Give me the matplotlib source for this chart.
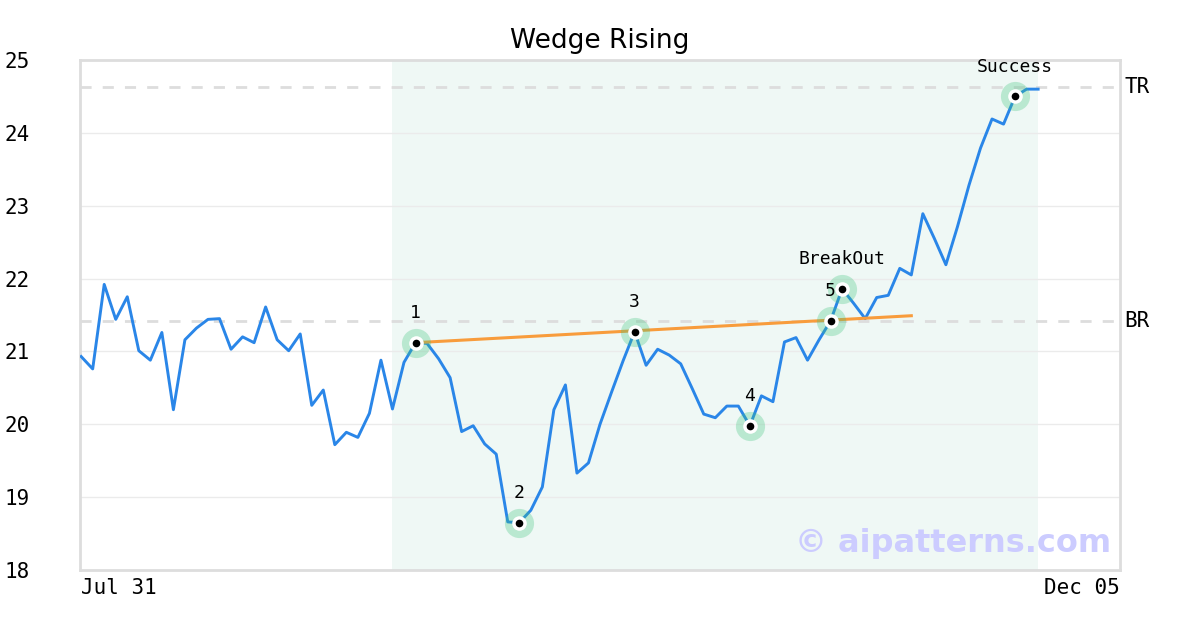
import matplotlib
matplotlib.use("Agg")
import matplotlib.pyplot as plt

# closing prices, one per trading day (index based x axis)
prices = [
    20.93, 20.76, 21.92, 21.44, 21.75, 21.01, 20.88, 21.26, 20.20, 21.16,
    21.32, 21.44, 21.45, 21.03, 21.20, 21.12, 21.61, 21.16, 21.01, 21.24,
    20.26, 20.47, 19.72, 19.89, 19.82, 20.15, 20.88, 20.21, 20.85, 21.12,
    21.11, 20.90, 20.64, 19.90, 19.98, 19.73, 19.59, 18.66, 18.65, 18.82,
    19.14, 20.20, 20.54, 19.33, 19.47, 20.00, 20.44, 20.87, 21.27, 20.81,
    21.03, 20.95, 20.83, 20.49, 20.14, 20.09, 20.25, 20.25, 19.98, 20.39,
    20.31, 21.13, 21.19, 20.88, 21.16, 21.42, 21.86, 21.66, 21.45, 21.74,
    21.77, 22.14, 22.05, 22.89, 22.55, 22.19, 22.71, 23.28, 23.79, 24.19,
    24.12, 24.50, 24.60, 24.60,
]

# pattern points (index into prices) and their labels
point_idx = [29, 38, 48, 58, 65, 66, 81]
point_labels = ["1", "2", "3", "4", "5", "BreakOut", "Success"]

# orange trend line: (index, value) at both ends
trend_x = [29, 72]
trend_y = [21.12, 21.49]

# shaded pattern window
shade_start, shade_end = 27, 83

levels = {"TR": 24.63, "BR": 21.42}

x_ticks = [0, 90.1]
x_tick_labels = ["Jul 31", "Dec 05"]
y_ticks = [18, 19, 20, 21, 22, 23, 24, 25]

fig = plt.figure(figsize=(12, 6.3), dpi=100)
ax = fig.add_axes([80 / 1200, 60 / 630, 1040 / 1200, 510 / 630])

x = list(range(len(prices)))

ax.axvspan(shade_start, shade_end, color="#eff8f5", zorder=0, lw=0)

for name, val in levels.items():
    ax.axhline(val, color="#dddddd", lw=2, ls=(0, (4, 4)), zorder=1)
    ax.text(1.004, val, name, transform=ax.get_yaxis_transform(),
            ha="left", va="center", fontsize=15, family="DejaVu Sans Mono")

ax.plot(x, prices, color="#2a86e8", lw=2.1, zorder=3)
ax.plot(trend_x, trend_y, color="#f89c3c", lw=2.2, zorder=3)

px = point_idx
py = [prices[i] for i in point_idx]
ax.plot(px, py, "o", ms=21, color="#3cc47c", alpha=0.3, mec="none", zorder=4)
ax.plot(px, py, "o", ms=10.5, color="white", mec="none", zorder=5)
ax.plot(px, py, "o", ms=5.5, color="black", mec="none", zorder=6)

for i, lab in zip(point_idx, point_labels):
    ax.annotate(lab, (i, prices[i]), xytext=(0, 21.5), textcoords="offset points",
                ha="center", va="center", fontsize=13,
                family="DejaVu Sans Mono", zorder=7)

ax.text(0.991, 0.052, "© aipatterns.com", transform=ax.transAxes,
        ha="right", va="center", fontsize=23, fontweight="bold",
        color="#ccccff", zorder=8)

ax.set_xlim(-0.1, 90.1)
ax.set_ylim(18, 25)
ax.set_yticks(y_ticks)
ax.set_xticks(x_ticks)
ax.set_xticklabels(x_tick_labels)
for lbl, ha in zip(ax.get_xticklabels(), ["left", "right"]):
    lbl.set_ha(ha)
ax.tick_params(axis="both", length=0, labelsize=15)
ax.tick_params(axis="y", pad=36)
ax.tick_params(axis="x", pad=6)
for lbl in ax.get_xticklabels() + ax.get_yticklabels():
    lbl.set_family("DejaVu Sans Mono")

ax.grid(axis="y", color="#ebebeb", lw=1)
ax.set_axisbelow(True)
for sp in ax.spines.values():
    sp.set_color("#dddddd")
    sp.set_linewidth(2)

ax.set_title("Wedge Rising", fontsize=19, pad=9)

fig.savefig("out.png", dpi=100)
